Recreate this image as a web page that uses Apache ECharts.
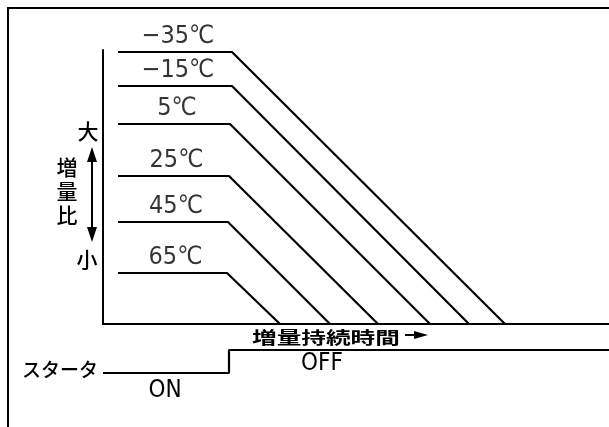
<!DOCTYPE html>
<html><head><meta charset="utf-8">
<script src="https://cdn.jsdelivr.net/npm/echarts@6/dist/echarts.min.js"></script>
<style>html,body{margin:0;padding:0;background:#fff}#c{width:609px;height:427px}</style>
</head><body><div id="c"></div>
<script>
// ---- data ----
const temperatures = ['−35℃', '−15℃', '5℃', '25℃', '45℃', '65℃'];
const ratioLevel   = [272, 238, 200, 148, 102, 51];   // 増量比 (relative)
const plateauStart = [15, 15, 15, 15, 15, 15];         // start of flat part
const plateauEnd   = [129, 129, 127, 126, 125, 124];   // end of flat part
const durationEnd  = [402, 366, 327, 275, 227, 177];   // 増量持続時間 end
const starterTime  = [0, 126, 126, 506];
const starterLevel = [0, 0, 1, 1];                     // 0 = ON, 1 = OFF
const starterText  = ['ON', 'OFF'];

const numFont = "'Liberation Sans Narrow','DejaVu Sans Condensed','Noto Sans CJK JP',sans-serif";
const jpFont = "'Noto Sans CJK JP',sans-serif";

const series = [];
temperatures.forEach((t, i) => {
  series.push({
    type: 'line', xAxisIndex: 0, yAxisIndex: 0, symbol: 'none', clip: false,
    lineStyle: { color: '#000', width: 2.2 },
    data: [[plateauStart[i], ratioLevel[i]], [plateauEnd[i], ratioLevel[i]], [durationEnd[i], 0]]
  });
});
series.push({
  type: 'scatter', xAxisIndex: 0, yAxisIndex: 0, symbolSize: 0, clip: false,
  data: temperatures.map((t, i) => ({ value: [(plateauStart[i] + plateauEnd[i]) / 2 + 3, ratioLevel[i]], name: t })),
  label: {
    show: true, position: 'inside', offset: [0, -16], formatter: p => p.name,
    color: '#000', fontSize: 25, fontFamily: numFont
  }
});
series.push({
  type: 'line', xAxisIndex: 1, yAxisIndex: 1, symbol: 'none', clip: false,
  lineStyle: { color: '#000', width: 2.2 },
  data: starterTime.map((x, i) => [x, starterLevel[i]])
});

const txt = (s, x, y, size, font, align, extra, weight) => Object.assign({
  type: 'text', x: x, y: y,
  style: { text: s, x: 0, y: 0, fontSize: size, fontFamily: font, fontWeight: weight || 'normal', fill: '#000',
           textAlign: align || 'center', textVerticalAlign: 'middle', align: align || 'center', verticalAlign: 'middle' }
}, extra || {});

const option = {
  animation: false,
  backgroundColor: '#fff',
  grid: [
    { left: 103, right: 0, top: 50, bottom: 103 },
    { left: 103, right: 0, top: 350, height: 23 }
  ],
  xAxis: [
    { type: 'value', gridIndex: 0, min: 0, max: 506,
      axisLine: { show: true, lineStyle: { color: '#000', width: 2 } },
      axisTick: { show: false }, axisLabel: { show: false }, splitLine: { show: false } },
    { type: 'value', gridIndex: 1, min: 0, max: 506, show: false }
  ],
  yAxis: [
    { type: 'value', gridIndex: 0, min: 0, max: 274,
      axisLine: { show: true, lineStyle: { color: '#000', width: 2 } },
      axisTick: { show: false }, axisLabel: { show: false }, splitLine: { show: false } },
    { type: 'value', gridIndex: 1, min: 0, max: 1, show: false }
  ],
  series: series,
  graphic: [
    { type: 'rect', shape: { x: 8, y: 8, width: 700, height: 500 },
      style: { fill: 'none', stroke: '#000', lineWidth: 2 } },
    txt('大', 88, 131, 21, jpFont, 'center', null, 500),
    txt('増', 67, 167, 21, jpFont, 'center', null, 500),
    txt('量', 67, 191, 21, jpFont, 'center', null, 500),
    txt('比', 67, 215, 21, jpFont, 'center', null, 500),
    txt('小', 87, 259, 21, jpFont, 'center', null, 500),
    { type: 'line', shape: { x1: 92, y1: 158, x2: 92, y2: 231 }, style: { stroke: '#000', lineWidth: 2 } },
    { type: 'polygon', shape: { points: [[92, 147], [87, 162], [97, 162]] }, style: { fill: '#000' } },
    { type: 'polygon', shape: { points: [[92, 242], [87, 227], [97, 227]] }, style: { fill: '#000' } },
    txt('増量持続時間', 252, 338, 17, jpFont, 'left', { scaleX: 1.45 }, 'bold'),
    { type: 'line', shape: { x1: 405, y1: 335, x2: 416, y2: 335 }, style: { stroke: '#000', lineWidth: 2 } },
    { type: 'polygon', shape: { points: [[428, 335], [414, 331], [414, 339]] }, style: { fill: '#000' } },
    txt('スタータ', 98, 370, 19, jpFont, 'right', null, 500),
    txt(starterText[0], 165, 391, 24, numFont),
    txt(starterText[1], 322, 364, 24, numFont)
  ]
};
echarts.init(document.getElementById('c'), null, { renderer: 'canvas' }).setOption(option);
</script></body></html>
